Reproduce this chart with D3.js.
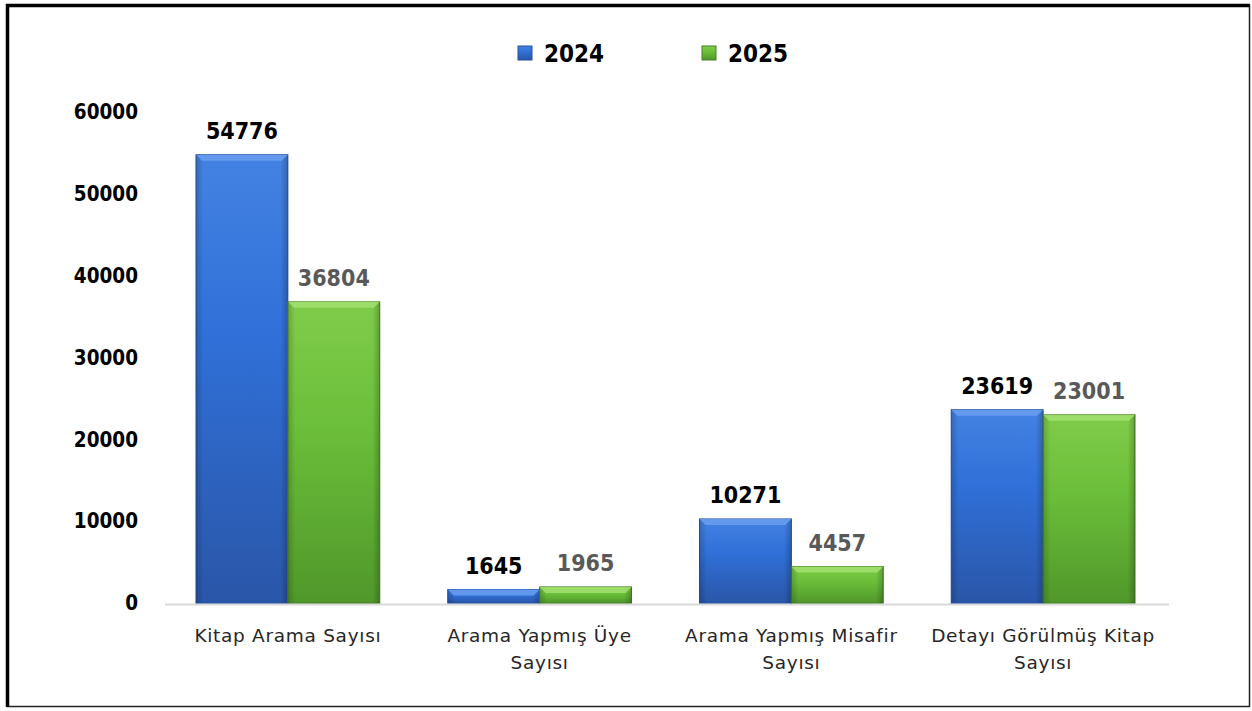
<!DOCTYPE html>
<html>
<head>
<meta charset="utf-8">
<script src="https://cdn.jsdelivr.net/npm/d3@7"></script>
<style>
body { margin: 0; background: #fff; }
svg { display: block; font-family: "DejaVu Sans", Verdana, sans-serif; }
.cond { font-family: "DejaVu Sans Condensed", "DejaVu Sans", sans-serif; font-stretch: condensed; }
</style>
</head>
<body>
<svg id="chart" width="1252" height="711"></svg>
<script>
const categories = [
	["Kitap Arama Sayısı"],
	["Arama Yapmış Üye", "Sayısı"],
	["Arama Yapmış Misafir", "Sayısı"],
	["Detayı Görülmüş Kitap", "Sayısı"]
]
const years = ["2024", "2025"]
const values2024 = [54776, 1645, 10271, 23619]
const values2025 = [36804, 1965, 4457, 23001]
const yTicks = [0, 10000, 20000, 30000, 40000, 50000, 60000]

const svg = d3.select("#chart")
const margin = { top: 112, bottom: 603, left: 162, right: 1169 }

// frame
svg.append("rect").attr("x", 7.5).attr("y", 5.5).attr("width", 1242).attr("height", 701)
	.attr("fill", "#fff").attr("stroke", "#222").attr("stroke-width", 1.5)
svg.append("path").attr("d", "M7.5,707 V5.5 H1250").attr("fill", "none").attr("stroke", "#000").attr("stroke-width", 3.5)

const defs = svg.append("defs")
const colors = {
	"2024": { top: "#4482e2", mid: "#3070d8", bottom: "#2a56a8", edge: "#24509e", bevel: "#6a9ff0" },
	"2025": { top: "#80cc4a", mid: "#6cbf3a", bottom: "#50982b", edge: "#457f25", bevel: "#a2e070" }
}
years.forEach(y => {
	const g = defs.append("linearGradient").attr("id", "grad" + y).attr("x1", 0).attr("y1", 0).attr("x2", 0).attr("y2", 1)
	g.append("stop").attr("offset", "0%").attr("stop-color", colors[y].top)
	g.append("stop").attr("offset", "40%").attr("stop-color", colors[y].mid)
	g.append("stop").attr("offset", "100%").attr("stop-color", colors[y].bottom)
	const h = defs.append("linearGradient").attr("id", "side" + y).attr("x1", 0).attr("y1", 0).attr("x2", 1).attr("y2", 0)
	h.append("stop").attr("offset", "0%").attr("stop-color", "#000").attr("stop-opacity", 0.18)
	h.append("stop").attr("offset", "8%").attr("stop-color", "#000").attr("stop-opacity", 0)
	h.append("stop").attr("offset", "92%").attr("stop-color", "#000").attr("stop-opacity", 0)
	h.append("stop").attr("offset", "100%").attr("stop-color", "#000").attr("stop-opacity", 0.22)
})

const x0 = d3.scaleBand().domain(d3.range(categories.length)).range([margin.left, margin.right]).paddingInner(0.27).paddingOuter(0.135)
const x1 = d3.scaleBand().domain(years).range([0, x0.bandwidth()])
const y = d3.scaleLinear().domain([0, 60000]).range([margin.bottom, margin.top])

// y labels
svg.append("g").selectAll("text").data(yTicks).join("text")
	.attr("class", "cond")
	.attr("x", 138).attr("y", d => y(d)).attr("dy", "0.35em")
	.attr("text-anchor", "end").attr("font-size", 20.5).attr("font-weight", "bold").attr("fill", "#000")
	.text(d => d)

// baseline
svg.append("line").attr("x1", margin.left + 3).attr("x2", margin.right).attr("y1", y(0) + 1.5).attr("y2", y(0) + 1.5)
	.attr("stroke", "#d9d9d9").attr("stroke-width", 2)

const series = years.map((yr, i) => ({ year: yr, values: i === 0 ? values2024 : values2025 }))

series.forEach(s => {
	const g = svg.append("g")
	const bars = g.selectAll("g").data(s.values).join("g")
		.attr("transform", (d, i) => `translate(${x0(i) + x1(s.year)},0)`)
	const w = x1.bandwidth()
	bars.append("rect").attr("x", 0).attr("y", d => y(d)).attr("width", w).attr("height", d => y(0) - y(d))
		.attr("fill", `url(#grad${s.year})`).attr("stroke", colors[s.year].edge).attr("stroke-width", 1)
	bars.append("rect").attr("x", 0).attr("y", d => y(d)).attr("width", w).attr("height", d => y(0) - y(d))
		.attr("fill", `url(#side${s.year})`)
	// top bevel
	bars.append("path")
		.attr("d", d => {
			const t = y(d), b = Math.min(6, (y(0) - t) / 2)
			return `M0,${t} H${w} L${w - b},${t + b} H${b} Z`
		})
		.attr("fill", colors[s.year].bevel).attr("opacity", 0.85)
	bars.append("text")
		.attr("class", "cond")
		.attr("x", w / 2).attr("y", d => y(d) - 16)
		.attr("text-anchor", "middle").attr("font-size", 23).attr("font-weight", "bold")
		.attr("fill", s.year === "2024" ? "#000" : "#595959")
		.text(d => d)
})

// category labels
const cat = svg.append("g").selectAll("text").data(categories).join("text")
	.attr("x", (d, i) => x0(i) + x0.bandwidth() / 2).attr("y", 642)
	.attr("text-anchor", "middle").attr("font-size", 18.5).attr("letter-spacing", 0.7).attr("fill", "#262626")
cat.selectAll("tspan").data(d => d).join("tspan")
	.attr("x", function () { return this.parentNode.getAttribute("x") })
	.attr("dy", (d, i) => i === 0 ? 0 : 27)
	.text(d => d)

// legend
const legend = svg.append("g").selectAll("g").data(years).join("g")
	.attr("transform", (d, i) => `translate(${518 + i * 184},46)`)
legend.append("rect").attr("width", 14).attr("height", 14).attr("fill", d => `url(#grad${d})`)
	.attr("stroke", d => colors[d].edge).attr("stroke-width", 1)
legend.append("text").attr("class", "cond").attr("x", 26).attr("y", 7).attr("dy", "0.36em")
	.attr("font-size", 24).attr("font-weight", "bold").attr("fill", "#000")
	.text(d => d)
</script>
</body>
</html>
